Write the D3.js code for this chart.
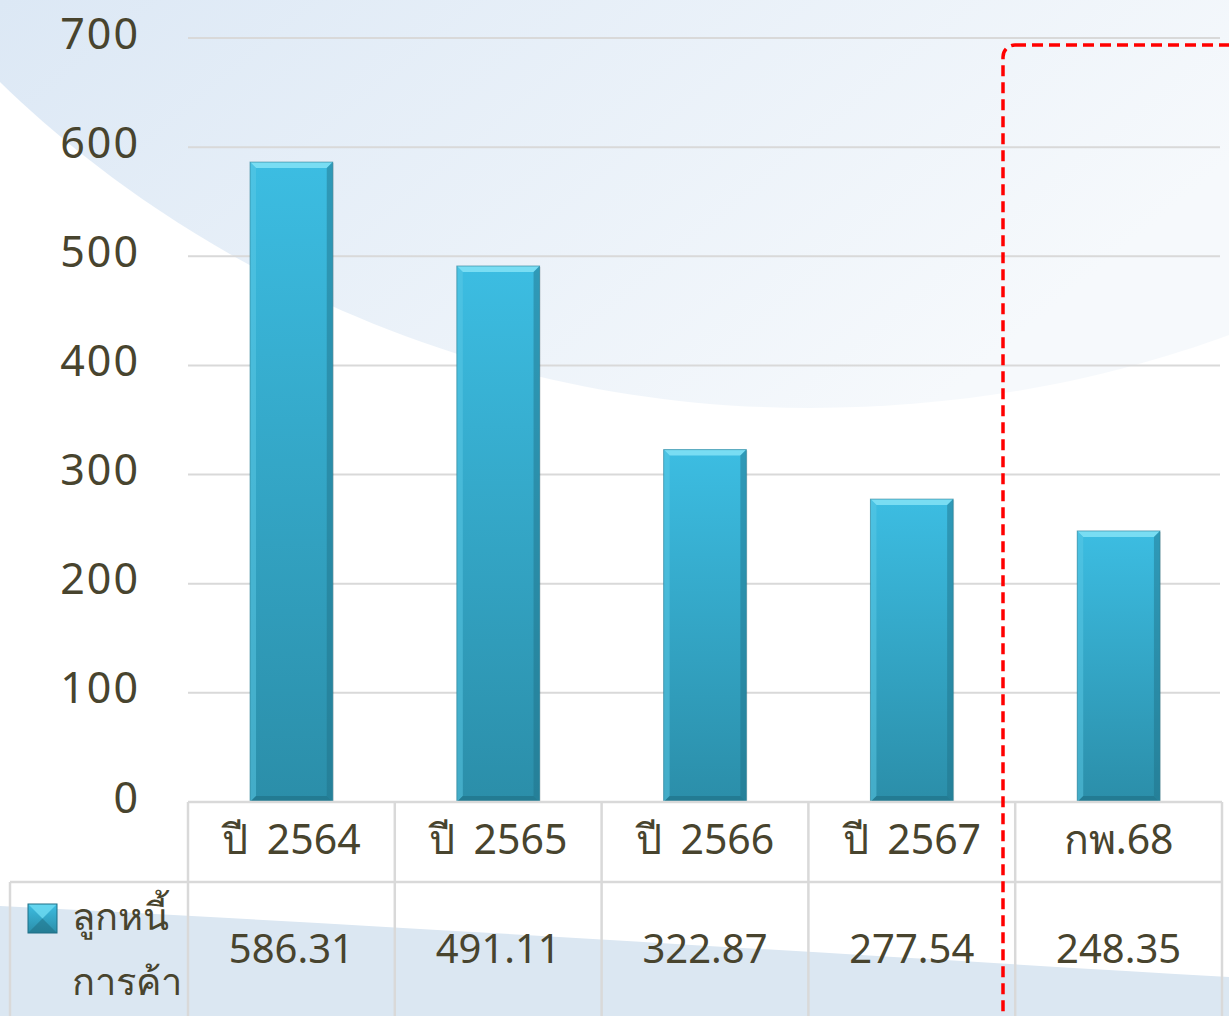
<!DOCTYPE html>
<html>
<head>
<meta charset="utf-8">
<script src="https://cdn.jsdelivr.net/npm/d3@7"></script>
<style>
  html, body { margin: 0; padding: 0; background: #fff; }
  svg { display: block; font-family: "Noto Sans", "Open Sans", sans-serif; }
</style>
</head>
<body>
<svg id="chart" width="1229" height="1016"></svg>
<script>
// data
var categories = ['ปี 2564', 'ปี 2565', 'ปี 2566', 'ปี 2567', 'กพ.68'];
var values = [586.31, 491.11, 322.87, 277.54, 248.35];
var valueLabels = ['586.31', '491.11', '322.87', '277.54', '248.35'];
var yTicks = [0, 100, 200, 300, 400, 500, 600, 700];
var seriesName = ['ลูกหนี้', 'การค้า'];

(function () {
var W = 1229, H = 1016;
var plotLeft = 188, plotRight = 1222, plotTop = 38, base = 802;
var rowH = 80, textCol = '#48442e', gridCol = '#d9d9d9';

var svg = d3.select('#chart');
var defs = svg.append('defs');

// background pieces
var bgGrad = defs.append('linearGradient').attr('id', 'bgGrad')
    .attr('x1', 0).attr('y1', 0).attr('x2', 1).attr('y2', 0.4);
bgGrad.append('stop').attr('offset', 0).attr('stop-color', '#dce8f5');
bgGrad.append('stop').attr('offset', 1).attr('stop-color', '#f6f9fc');

var barGrad = defs.append('linearGradient').attr('id', 'barGrad')
    .attr('x1', 0).attr('y1', 0).attr('x2', 0).attr('y2', 1);
barGrad.append('stop').attr('offset', 0).attr('stop-color', '#3cbde2');
barGrad.append('stop').attr('offset', 1).attr('stop-color', '#2b8ea9');

svg.append('path')
    .attr('d', 'M0,0 L0,82 C120,200 400,408 810,408 C980,408 1120,375 1229,335 L1229,0 Z')
    .attr('fill', 'url(#bgGrad)');
svg.append('path')
    .attr('d', 'M0,906 C400,926 800,952 1229,977 L1229,1016 L0,1016 Z')
    .attr('fill', '#dbe7f2');

var x = d3.scaleBand().domain(categories).range([plotLeft, plotRight]).paddingInner(0).paddingOuter(0);
var y = d3.scaleLinear().domain([0, 700]).range([base, plotTop]);

// gridlines
svg.append('g').selectAll('line').data(yTicks.slice(1)).join('line')
    .attr('x1', plotLeft).attr('x2', 1220)
    .attr('y1', function (d) { return y(d); }).attr('y2', function (d) { return y(d); })
    .attr('stroke', gridCol).attr('stroke-width', 2);

// y axis labels
svg.append('g').selectAll('text').data(yTicks).join('text')
    .attr('x', 140).attr('y', function (d) { return y(d) - 6; })
    .attr('text-anchor', 'end').attr('dominant-baseline', 'central')
    .attr('font-size', 43).attr('letter-spacing', 2).attr('fill', textCol)
    .text(function (d) { return d; });

// bars with bevel
var bw = x.bandwidth() * 0.4, bev = 6;
var bars = svg.append('g').selectAll('g').data(values).join('g');
bars.each(function (v, i) {
    var g = d3.select(this);
    var x0 = x(categories[i]) + (x.bandwidth() - bw) / 2, x1 = x0 + bw;
    var y0 = y(v), y1 = y(0);
    g.append('rect').attr('x', x0 + 1).attr('y', y0 + 1).attr('width', bw).attr('height', y1 - y0)
        .attr('fill', '#000').attr('opacity', 0.12);
    g.append('rect').attr('x', x0).attr('y', y0).attr('width', bw).attr('height', y1 - y0)
        .attr('fill', 'url(#barGrad)');
    var poly = function (pts, col, op) {
        g.append('polygon').attr('points', pts.map(function (p) { return p.join(','); }).join(' '))
            .attr('fill', col).attr('opacity', op);
    };
    poly([[x0, y0], [x1, y0], [x1 - bev, y0 + bev], [x0 + bev, y0 + bev]], '#7fe0f5', 0.9);
    poly([[x0, y0], [x0 + bev, y0 + bev], [x0 + bev, y1 - bev], [x0, y1]], '#5bc9e6', 0.5);
    poly([[x1, y0], [x1, y1], [x1 - bev, y1 - bev], [x1 - bev, y0 + bev]], '#1f6f85', 0.45);
    poly([[x0, y1], [x0 + bev, y1 - bev], [x1 - bev, y1 - bev], [x1, y1]], '#1d6b80', 0.55);
    g.append('rect').attr('x', x0).attr('y', y0).attr('width', bw).attr('height', y1 - y0)
        .attr('fill', 'none').attr('stroke', '#2a7f96').attr('stroke-width', 1).attr('opacity', 0.6);
});

// data table
var tbl = svg.append('g');
tbl.append('line').attr('x1', plotLeft).attr('x2', plotRight).attr('y1', base).attr('y2', base)
    .attr('stroke', gridCol).attr('stroke-width', 2.5);
tbl.append('line').attr('x1', 10).attr('x2', plotRight).attr('y1', base + rowH).attr('y2', base + rowH)
    .attr('stroke', gridCol).attr('stroke-width', 2.5);
var edges = categories.map(function (c) { return x(c); }).concat([plotRight]);
tbl.selectAll('line.v').data(edges).join('line').attr('class', 'v')
    .attr('x1', function (d) { return d; }).attr('x2', function (d) { return d; })
    .attr('y1', base).attr('y2', H)
    .attr('stroke', gridCol).attr('stroke-width', 2.5);
tbl.append('line').attr('x1', 10).attr('x2', 10).attr('y1', base + rowH).attr('y2', H)
    .attr('stroke', gridCol).attr('stroke-width', 2.5);

tbl.selectAll('text.cat').data(categories).join('text').attr('class', 'cat')
    .attr('x', function (d) { return x(d) + x.bandwidth() / 2; })
    .attr('y', base + 36).attr('text-anchor', 'middle').attr('dominant-baseline', 'central')
    .attr('font-size', 41).attr('fill', textCol).attr('word-spacing', 8)
    .text(function (d) { return d; });
tbl.selectAll('text.val').data(valueLabels).join('text').attr('class', 'val')
    .attr('x', function (d, i) { return x(categories[i]) + x.bandwidth() / 2; })
    .attr('y', base + 145).attr('text-anchor', 'middle').attr('dominant-baseline', 'central')
    .attr('font-size', 40).attr('fill', textCol)
    .text(function (d) { return d; });

// legend key
var kx = 28, ky = 904, ks = 29;
tbl.append('rect').attr('x', kx).attr('y', ky).attr('width', ks).attr('height', ks).attr('fill', 'url(#barGrad)');
tbl.append('polygon').attr('points', [[kx, ky], [kx + ks, ky], [kx + ks / 2, ky + ks / 2]].join(' '))
    .attr('fill', '#6fdcf3').attr('opacity', 0.8);
tbl.append('polygon').attr('points', [[kx, ky + ks], [kx + ks, ky + ks], [kx + ks / 2, ky + ks / 2]].join(' '))
    .attr('fill', '#1d6b80').attr('opacity', 0.5);
tbl.append('rect').attr('x', kx).attr('y', ky).attr('width', ks).attr('height', ks)
    .attr('fill', 'none').attr('stroke', '#1f6f85').attr('stroke-width', 1);
tbl.selectAll('text.leg').data(seriesName).join('text').attr('class', 'leg')
    .attr('x', 72).attr('y', function (d, i) { return 915 + i * 65; })
    .attr('dominant-baseline', 'central').attr('font-size', 38).attr('fill', textCol)
    .text(function (d) { return d; });

// red dashed highlight box
svg.append('rect').attr('x', 1003).attr('y', 45).attr('width', 400).attr('height', 1100)
    .attr('rx', 12).attr('fill', 'none')
    .attr('stroke', '#ff0000').attr('stroke-width', 3.5).attr('stroke-dasharray', '11 6');
})();
</script>
</body>
</html>
